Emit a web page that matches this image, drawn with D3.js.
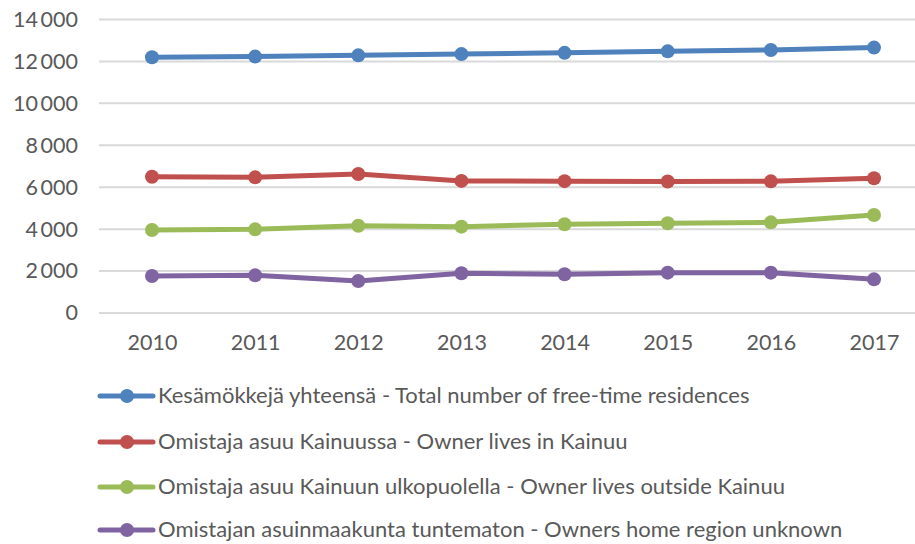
<!DOCTYPE html>
<html><head><meta charset="utf-8">
<script src="https://cdn.jsdelivr.net/npm/d3@7"></script>
<style>body{margin:0;background:#fff}svg{display:block}text{font-family:Lato,"Open Sans",sans-serif;fill:#595959}</style>
</head><body><svg id="c" width="915" height="544"></svg>
<script>
const years = ["2010","2011","2012","2013","2014","2015","2016","2017"];
const seriesNames = [
  "Kesämökkejä yhteensä - Total number of free-time residences",
  "Omistaja asuu Kainuussa - Owner lives in Kainuu",
  "Omistaja asuu Kainuun ulkopuolella - Owner lives outside Kainuu",
  "Omistajan asuinmaakunta tuntematon - Owners home region unknown"
];
const totalValues   = [12200, 12230, 12290, 12350, 12410, 12480, 12545, 12660];
const kainuuValues  = [6500, 6470, 6630, 6300, 6290, 6270, 6280, 6425];
const outsideValues = [3960, 3990, 4165, 4120, 4230, 4280, 4325, 4675];
const unknownValues = [1765, 1795, 1525, 1895, 1845, 1925, 1925, 1605];
const colors = ["#4f81bd", "#c0504d", "#9bbb59", "#8064a2"];
const yTicks = [0, 2000, 4000, 6000, 8000, 10000, 12000, 14000];

const series = [totalValues, kainuuValues, outsideValues, unknownValues];
const svg = d3.select("#c");
const x = d3.scalePoint().domain(years).range([152, 874]);
const y = d3.scaleLinear().domain([0, 14000]).range([313, 19.5]);
const fmt = v => d3.format(",")(v).replace(/,/g, "\u2009");

// gridlines
svg.append("g").selectAll("line").data(yTicks).join("line")
  .attr("x1", 99).attr("x2", 915)
  .attr("y1", d => y(d)).attr("y2", d => y(d))
  .attr("stroke", "#d9d9d9").attr("stroke-width", 2);

// y axis labels
const yAxis = svg.append("g").attr("transform", "translate(78,0)")
  .call(d3.axisLeft(y).tickValues(yTicks).tickSize(0).tickPadding(0).tickFormat(d => fmt(d)));
yAxis.select(".domain").remove();
yAxis.selectAll("text").attr("font-size", 21.5).style("fill", "#595959");

// x axis labels
const xAxis = svg.append("g").attr("transform", "translate(0,335)")
  .call(d3.axisBottom(x).tickSize(0).tickPadding(0));
xAxis.select(".domain").remove();
xAxis.selectAll("text").attr("font-size", 21.5).style("fill", "#595959").attr("dy", "0.71em");

// lines
const line = d3.line().x((d, i) => x(years[i])).y(d => y(d));
series.forEach((vals, si) => {
  svg.append("path").datum(vals).attr("d", line)
    .attr("fill", "none").attr("stroke", colors[si]).attr("stroke-width", 5)
    .attr("stroke-linejoin", "round").attr("stroke-linecap", "round");
  svg.append("g").selectAll("circle").data(vals).join("circle")
    .attr("cx", (d, i) => x(years[i])).attr("cy", d => y(d)).attr("r", 7)
    .attr("fill", colors[si]);
});

// legend
const legendY = [396, 442, 487, 530];
const lg = svg.append("g").selectAll("g").data(seriesNames).join("g")
  .attr("transform", (d, i) => `translate(0,${legendY[i]})`);
lg.append("line").attr("x1", 100).attr("x2", 153).attr("y1", 0).attr("y2", 0)
  .attr("stroke", (d, i) => colors[i]).attr("stroke-width", 5).attr("stroke-linecap", "round");
lg.append("circle").attr("cx", 127).attr("cy", 0).attr("r", 7).attr("fill", (d, i) => colors[i]);
lg.append("text").attr("x", 158).attr("y", 0).attr("dy", "0.33em")
  .attr("font-size", 22).text(d => d);
</script></body></html>
